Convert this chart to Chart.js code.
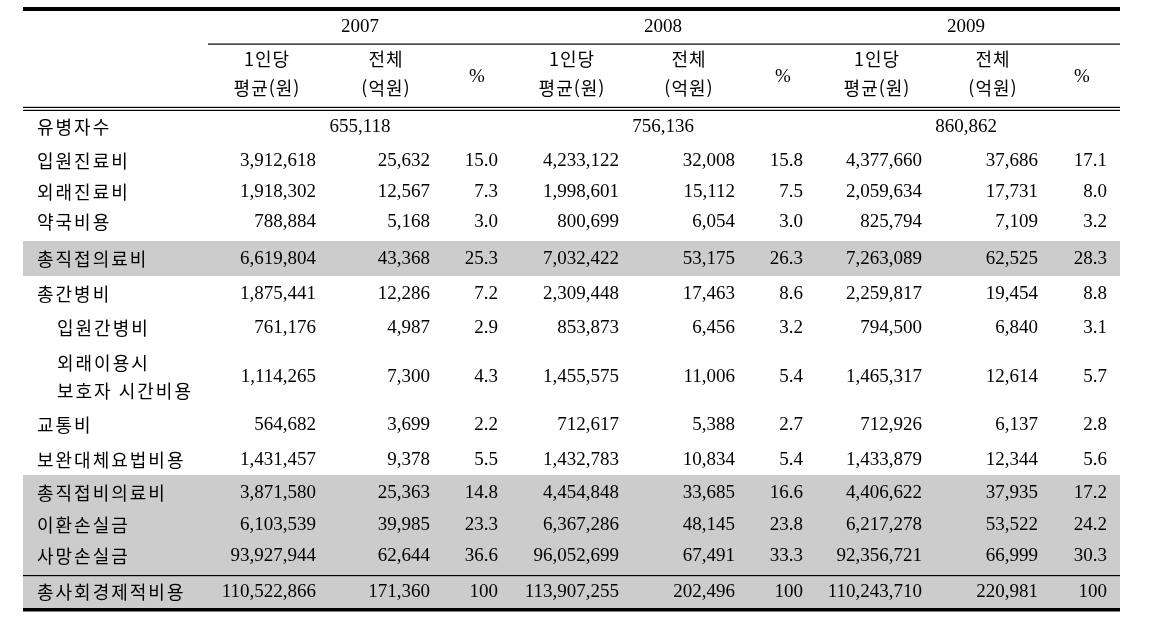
<!DOCTYPE html>
<html lang="ko">
<head>
<meta charset="utf-8">
<title>사회경제적 비용</title>
<script src="https://cdn.jsdelivr.net/npm/chart.js@4"></script>
<style>
    body { margin: 0; background: #fff; }
    .wrap { width: 1159px; height: 631px; }
</style>
</head>
<body>
<div class="wrap"><canvas class="my-table" width="1159" height="631"></canvas></div>
<script>
// --- data ---
const years = ["2007", "2008", "2009"];
const subHeads = [["1인당", "평균(원)"], ["전체", "(억원)"], ["%"]];
const patients = [655118, 756136, 860862];
const rowLabels = ["입원진료비", "외래진료비", "약국비용", "총직접의료비", "총간병비", "입원간병비",
    "외래이용시\n보호자 시간비용", "교통비", "보완대체요법비용", "총직접비의료비", "이환손실금", "사망손실금", "총사회경제적비용"];

const perCapita2007 = [3912618, 1918302, 788884, 6619804, 1875441, 761176, 1114265, 564682, 1431457, 3871580, 6103539, 93927944, 110522866];
const total2007 = [25632, 12567, 5168, 43368, 12286, 4987, 7300, 3699, 9378, 25363, 39985, 62644, 171360];
const pct2007 = [15.0, 7.3, 3.0, 25.3, 7.2, 2.9, 4.3, 2.2, 5.5, 14.8, 23.3, 36.6, 100];

const perCapita2008 = [4233122, 1998601, 800699, 7032422, 2309448, 853873, 1455575, 712617, 1432783, 4454848, 6367286, 96052699, 113907255];
const total2008 = [32008, 15112, 6054, 53175, 17463, 6456, 11006, 5388, 10834, 33685, 48145, 67491, 202496];
const pct2008 = [15.8, 7.5, 3.0, 26.3, 8.6, 3.2, 5.4, 2.7, 5.4, 16.6, 23.8, 33.3, 100];

const perCapita2009 = [4377660, 2059634, 825794, 7263089, 2259817, 794500, 1465317, 712926, 1433879, 4406622, 6217278, 92356721, 110243710];
const total2009 = [37686, 17731, 7109, 62525, 19454, 6840, 12614, 6137, 12344, 37935, 53522, 66999, 220981];
const pct2009 = [17.1, 8.0, 3.2, 28.3, 8.8, 3.1, 5.7, 2.8, 5.6, 17.2, 24.2, 30.3, 100];

// --- layout (scale units == pixels) ---
const rowY = [161, 192, 222, 259, 294, 328, 377, 425, 460, 493, 525, 556, 592];
const patientsY = 127;
const indented = [5, 6];
const colRight = [[316, 430, 498], [619, 735, 803], [922, 1038, 1107]];
const yearCenter = [360, 663, 966];
const subCenter = [[267, 386, 477], [572, 689, 783], [877, 993, 1082]];
const grayBands = [[241, 276], [475, 608]];

const numFont = '19px "Liberation Serif", serif';
const krFont = '18px "Noto Sans CJK KR", sans-serif';

const fmt = (v, isPct) => {
    if (isPct) return v === 100 ? "100" : v.toFixed(1);
    return v.toLocaleString("en-US");
};

const columns = [
    [perCapita2007, total2007, pct2007],
    [perCapita2008, total2008, pct2008],
    [perCapita2009, total2009, pct2009],
];

const datasets = [];
columns.forEach((group, g) => {
    group.forEach((vals, c) => {
        datasets.push({
            label: years[g] + "-" + c,
            isPct: c === 2,
            data: vals.map((v, i) => ({ x: colRight[g][c], y: rowY[i], v: v })),
            pointRadius: 0,
        });
    });
});
datasets.push({
    label: "patients",
    centered: true,
    data: patients.map((v, g) => ({ x: yearCenter[g], y: patientsY, v: v })),
    pointRadius: 0,
});

const tablePlugin = {
    id: "tablePlugin",
    beforeDatasetsDraw(chart) {
        const ctx = chart.ctx;
        const x = chart.scales.x;
        const y = chart.scales.y;
        const left = x.getPixelForValue(23);
        const right = x.getPixelForValue(1120);

        ctx.save();
        ctx.fillStyle = "#cccccc";
        grayBands.forEach(b => {
            const y0 = y.getPixelForValue(b[0]);
            const y1 = y.getPixelForValue(b[1]);
            ctx.fillRect(left, y0, right - left, y1 - y0);
        });

        ctx.fillStyle = "#000";
        // top and bottom rules
        ctx.fillRect(left, y.getPixelForValue(7), right - left, 4);
        ctx.fillRect(left, y.getPixelForValue(608), right - left, 3.5);
        // year rule
        ctx.fillRect(x.getPixelForValue(208), y.getPixelForValue(43.5), right - x.getPixelForValue(208), 1.2);
        // double rule under header
        ctx.fillRect(left, y.getPixelForValue(106.8), right - left, 1.2);
        ctx.fillRect(left, y.getPixelForValue(109.8), right - left, 1.2);
        // rule above total
        ctx.fillRect(left, y.getPixelForValue(575), right - left, 1.2);

        // headers
        ctx.textBaseline = "middle";
        ctx.textAlign = "center";
        years.forEach((yr, g) => {
            ctx.font = numFont;
            ctx.fillText(yr, x.getPixelForValue(yearCenter[g]), y.getPixelForValue(27));
            subHeads.forEach((h, c) => {
                const cx = x.getPixelForValue(subCenter[g][c]);
                if (h.length === 1) {
                    ctx.font = numFont;
                    ctx.fillText(h[0], cx, y.getPixelForValue(77));
                } else {
                    ctx.font = krFont;
                    ctx.letterSpacing = "1px";
                    ctx.fillText(h[0], cx, y.getPixelForValue(59));
                    ctx.fillText(h[1], cx, y.getPixelForValue(88));
                    ctx.letterSpacing = "0px";
                }
            });
        });

        // row labels
        ctx.textAlign = "left";
        ctx.font = krFont;
        ctx.letterSpacing = "2px";
        ctx.fillText("유병자수", x.getPixelForValue(37), y.getPixelForValue(patientsY));
        rowLabels.forEach((l, i) => {
            const lx = x.getPixelForValue(indented.includes(i) ? 57 : 37);
            const lines = l.split("\n");
            if (lines.length === 2) {
                ctx.fillText(lines[0], lx, y.getPixelForValue(rowY[i] - 14));
                ctx.fillText(lines[1], lx, y.getPixelForValue(rowY[i] + 14));
            } else {
                ctx.fillText(l, lx, y.getPixelForValue(rowY[i]));
            }
        });
        ctx.letterSpacing = "0px";
        ctx.restore();
    },
    afterDatasetsDraw(chart) {
        const ctx = chart.ctx;
        ctx.save();
        ctx.fillStyle = "#000";
        ctx.font = numFont;
        ctx.textBaseline = "middle";
        chart.data.datasets.forEach((ds, d) => {
            const meta = chart.getDatasetMeta(d);
            ctx.textAlign = ds.centered ? "center" : "right";
            meta.data.forEach((pt, i) => {
                ctx.fillText(fmt(ds.data[i].v, ds.isPct), pt.x, pt.y);
            });
        });
        ctx.restore();
    },
};

const myTable = document.querySelector(".my-table");

new Chart(myTable, {
    type: "scatter",
    data: { datasets: datasets },
    options: {
        responsive: false,
        animation: false,
        layout: { padding: 0 },
        scales: {
            x: { type: "linear", min: 0, max: 1159, display: false },
            y: { type: "linear", min: 0, max: 631, reverse: true, display: false },
        },
        plugins: {
            legend: { display: false },
            tooltip: { enabled: false },
        },
    },
    plugins: [tablePlugin],
});
</script>
</body>
</html>
